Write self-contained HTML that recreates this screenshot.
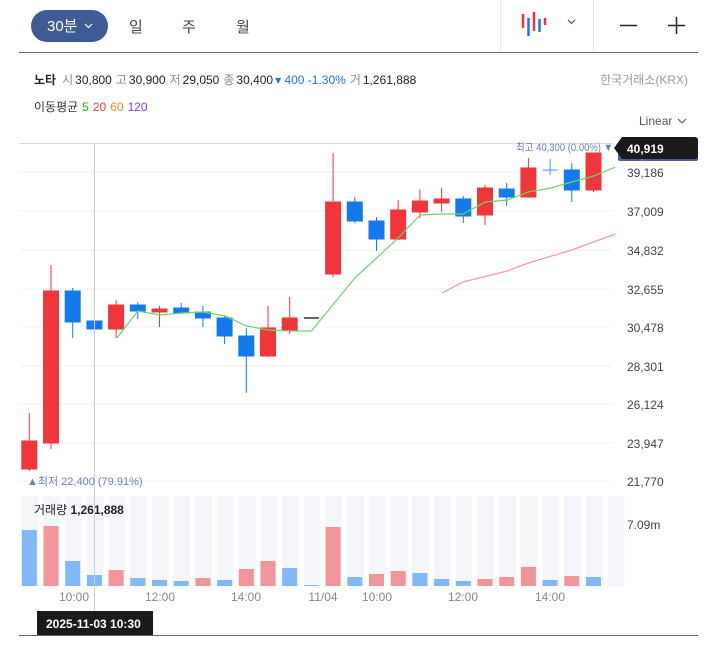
<!DOCTYPE html>
<html><head><meta charset="utf-8"><style>
body{margin:0;background:#fff;width:713px;height:650px;overflow:hidden}
text{font-family:"Liberation Sans","Noto Sans CJK KR",sans-serif}
</style></head><body>
<svg width="713" height="650" viewBox="0 0 713 650" xmlns="http://www.w3.org/2000/svg">
<rect x="31" y="10" width="77" height="32" rx="16" fill="#3f5b96"/>
<text x="47" y="31" font-size="15" fill="#fff">30분</text>
<path d="M85 24l3.5 3.5 3.5-3.5" stroke="#fff" fill="none" stroke-width="1.2"/>
<text x="129" y="32" font-size="15" fill="#444">일</text>
<text x="182" y="32" font-size="15" fill="#444">주</text>
<text x="236" y="32" font-size="15" fill="#444">월</text>
<line x1="500.5" y1="0" x2="500.5" y2="52" stroke="#e6e6e6"/>
<line x1="593.5" y1="0" x2="593.5" y2="52" stroke="#e6e6e6"/>
<g stroke-width="2.5">
<line x1="523" y1="14" x2="523" y2="28" stroke="#e8363c"/>
<line x1="528.5" y1="18" x2="528.5" y2="36" stroke="#1a73e8"/>
<line x1="534" y1="12" x2="534" y2="31" stroke="#e8363c"/>
<line x1="539.5" y1="19" x2="539.5" y2="32" stroke="#1a73e8"/>
<line x1="545" y1="18" x2="545" y2="25" stroke="#e8363c"/>
</g>
<path d="M568 20l3.5 3.5 3.5-3.5" stroke="#555" fill="none" stroke-width="1.2"/>
<line x1="620" y1="25.5" x2="637" y2="25.5" stroke="#222" stroke-width="1.5"/>
<line x1="668" y1="25.5" x2="685" y2="25.5" stroke="#222" stroke-width="1.5"/>
<line x1="676.5" y1="17" x2="676.5" y2="34" stroke="#222" stroke-width="1.5"/>
<line x1="19" y1="52.5" x2="698" y2="52.5" stroke="#666"/>
<text y="84" font-size="12" fill="#222"><tspan x="34" font-weight="bold">노타</tspan><tspan dx="6" fill="#888">시</tspan><tspan dx="2">30,800</tspan><tspan dx="4" fill="#888">고</tspan><tspan dx="2">30,900</tspan><tspan dx="4" fill="#888">저</tspan><tspan dx="2">29,050</tspan><tspan dx="4" fill="#888">종</tspan><tspan dx="2">30,400</tspan><tspan fill="#1a73e8" dx="2">▾ 400 -1.30%</tspan><tspan dx="4" fill="#888">거</tspan><tspan dx="2">1,261,888</tspan></text>
<text x="688" y="84" font-size="12" fill="#999" text-anchor="end">한국거래소(KRX)</text>
<text y="111" font-size="12" fill="#333"><tspan x="34">이동평균</tspan><tspan dx="4" fill="#1db300">5</tspan><tspan dx="4" fill="#f03c3c">20</tspan><tspan dx="4" fill="#f08a2c">60</tspan><tspan dx="4" fill="#8a3cf0">120</tspan></text>
<text x="639" y="125" font-size="12" fill="#555">Linear</text>
<path d="M678 119l4 4 4-4" stroke="#555" fill="none" stroke-width="1.1"/>
<line x1="19" y1="143.5" x2="613" y2="143.5" stroke="#d5dae6"/>
<g stroke="#f0f0f0">
<line x1="19" y1="172" x2="613" y2="172"/><line x1="19" y1="211" x2="613" y2="211"/>
<line x1="19" y1="250" x2="613" y2="250"/><line x1="19" y1="289" x2="613" y2="289"/>
<line x1="19" y1="327" x2="613" y2="327"/><line x1="19" y1="366" x2="613" y2="366"/>
<line x1="19" y1="404" x2="613" y2="404"/><line x1="19" y1="443" x2="613" y2="443"/>
<line x1="19" y1="481" x2="613" y2="481"/>
</g>
<g font-size="12" fill="#444">
<text x="627" y="177">39,186</text><text x="627" y="216">37,009</text>
<text x="627" y="255">34,832</text><text x="627" y="294">32,655</text>
<text x="627" y="332">30,478</text><text x="627" y="371">28,301</text>
<text x="627" y="409">26,124</text><text x="627" y="448">23,947</text>
<text x="627" y="486">21,770</text>
</g>
<g fill="#f5f6fa">
<rect x="21.5" y="496" width="17" height="90"/><rect x="43.2" y="496" width="17" height="90"/><rect x="64.9" y="496" width="17" height="90"/><rect x="86.6" y="496" width="17" height="90"/><rect x="108.3" y="496" width="17" height="90"/><rect x="130" y="496" width="17" height="90"/><rect x="151.7" y="496" width="17" height="90"/><rect x="173.4" y="496" width="17" height="90"/><rect x="195.1" y="496" width="17" height="90"/><rect x="216.8" y="496" width="17" height="90"/><rect x="238.5" y="496" width="17" height="90"/><rect x="260.2" y="496" width="17" height="90"/><rect x="281.9" y="496" width="17" height="90"/><rect x="303.6" y="496" width="17" height="90"/><rect x="325.3" y="496" width="17" height="90"/><rect x="347" y="496" width="17" height="90"/><rect x="368.7" y="496" width="17" height="90"/><rect x="390.4" y="496" width="17" height="90"/><rect x="412.1" y="496" width="17" height="90"/><rect x="433.8" y="496" width="17" height="90"/><rect x="455.5" y="496" width="17" height="90"/><rect x="477.2" y="496" width="17" height="90"/><rect x="498.9" y="496" width="17" height="90"/><rect x="520.6" y="496" width="17" height="90"/><rect x="542.3" y="496" width="17" height="90"/><rect x="564" y="496" width="17" height="90"/><rect x="585.7" y="496" width="17" height="90"/><rect x="607.4" y="496" width="17" height="90"/>
</g>
<g>
<rect x="21.8" y="530" width="15" height="56" fill="#80b9f5"/>
<rect x="43.5" y="526" width="15" height="60" fill="#f09599"/>
<rect x="65.2" y="561" width="15" height="25" fill="#80b9f5"/>
<rect x="86.9" y="575" width="15" height="11" fill="#80b9f5"/>
<rect x="108.6" y="570" width="15" height="16" fill="#f09599"/>
<rect x="130.3" y="578" width="15" height="8" fill="#80b9f5"/>
<rect x="152" y="580" width="15" height="6" fill="#80b9f5"/>
<rect x="173.7" y="581" width="15" height="5" fill="#80b9f5"/>
<rect x="195.4" y="578" width="15" height="8" fill="#f09599"/>
<rect x="217.1" y="580" width="15" height="6" fill="#80b9f5"/>
<rect x="238.8" y="569" width="15" height="17" fill="#f09599"/>
<rect x="260.5" y="561" width="15" height="25" fill="#f09599"/>
<rect x="282.2" y="568" width="15" height="18" fill="#80b9f5"/>
<rect x="303.9" y="585" width="15" height="1" fill="#80b9f5"/>
<rect x="325.6" y="527" width="15" height="59" fill="#f09599"/>
<rect x="347.3" y="577" width="15" height="9" fill="#80b9f5"/>
<rect x="369" y="574" width="15" height="12" fill="#f09599"/>
<rect x="390.7" y="571" width="15" height="15" fill="#f09599"/>
<rect x="412.4" y="573" width="15" height="13" fill="#80b9f5"/>
<rect x="434.1" y="579" width="15" height="7" fill="#80b9f5"/>
<rect x="455.8" y="581" width="15" height="5" fill="#80b9f5"/>
<rect x="477.5" y="579" width="15" height="7" fill="#f09599"/>
<rect x="499.2" y="577" width="15" height="9" fill="#f09599"/>
<rect x="520.9" y="567" width="15" height="19" fill="#f09599"/>
<rect x="542.6" y="580" width="15" height="6" fill="#80b9f5"/>
<rect x="564.3" y="576" width="15" height="10" fill="#f09599"/>
<rect x="586" y="577" width="15" height="9" fill="#80b9f5"/>
</g>
<text x="34" y="514" font-size="12" fill="#222">거래량 <tspan font-weight="bold">1,261,888</tspan></text>
<text x="627" y="529" font-size="12" fill="#444">7.09m</text>
<g font-size="12" fill="#888" text-anchor="middle">
<text x="74" y="601">10:00</text><text x="160" y="601">12:00</text><text x="246" y="601">14:00</text>
<text x="323" y="601">11/04</text><text x="377" y="601">10:00</text><text x="463" y="601">12:00</text><text x="550" y="601">14:00</text>
</g>
<g stroke-width="1">
<g stroke="#ee363b" fill="#ee363b">
<line x1="29.3" y1="413" x2="29.3" y2="471"/><rect x="21.8" y="441" width="15" height="28"/>
<line x1="51" y1="265" x2="51" y2="449"/><rect x="43.5" y="291" width="15" height="152"/>
<line x1="116.1" y1="300" x2="116.1" y2="338"/><rect x="108.6" y="305" width="15" height="24"/>
<line x1="159.5" y1="306" x2="159.5" y2="327"/><rect x="152" y="309" width="15" height="3"/>
<line x1="268" y1="306" x2="268" y2="357"/><rect x="260.5" y="328" width="15" height="28"/>
<line x1="289.7" y1="297" x2="289.7" y2="334"/><rect x="282.2" y="318" width="15" height="12"/>
<line x1="333.1" y1="153" x2="333.1" y2="277"/><rect x="325.6" y="202" width="15" height="72"/>
<line x1="398.2" y1="200" x2="398.2" y2="240"/><rect x="390.7" y="210" width="15" height="29"/>
<line x1="419.9" y1="189" x2="419.9" y2="218"/><rect x="412.4" y="201" width="15" height="11"/>
<line x1="441.6" y1="188" x2="441.6" y2="212"/><rect x="434.1" y="199" width="15" height="4"/>
<line x1="485" y1="185" x2="485" y2="225"/><rect x="477.5" y="188" width="15" height="27"/>
<line x1="528.4" y1="158" x2="528.4" y2="198"/><rect x="520.9" y="168" width="15" height="29"/>
<line x1="593.5" y1="153" x2="593.5" y2="192"/><rect x="586" y="153" width="15" height="37"/>
</g>
<g stroke="#1479ea" fill="#1479ea">
<line x1="72.7" y1="288" x2="72.7" y2="338"/><rect x="65.2" y="291" width="15" height="31"/>
<rect x="86.9" y="321" width="15" height="8"/>
<line x1="137.8" y1="302" x2="137.8" y2="319"/><rect x="130.3" y="305" width="15" height="6"/>
<line x1="181.2" y1="303" x2="181.2" y2="314"/><rect x="173.7" y="308" width="15" height="5"/>
<line x1="202.9" y1="306" x2="202.9" y2="327"/><rect x="195.4" y="312" width="15" height="6"/>
<line x1="224.6" y1="316" x2="224.6" y2="344"/><rect x="217.1" y="318" width="15" height="18"/>
<line x1="246.3" y1="328" x2="246.3" y2="393"/><rect x="238.8" y="336" width="15" height="20"/>
<line x1="354.8" y1="197" x2="354.8" y2="223"/><rect x="347.3" y="202" width="15" height="19"/>
<line x1="376.5" y1="217" x2="376.5" y2="251"/><rect x="369" y="221" width="15" height="18"/>
<line x1="463.3" y1="196" x2="463.3" y2="223"/><rect x="455.8" y="199" width="15" height="17"/>
<line x1="506.7" y1="183" x2="506.7" y2="206"/><rect x="499.2" y="189" width="15" height="8"/>
<line x1="571.8" y1="163" x2="571.8" y2="202"/><rect x="564.3" y="170" width="15" height="20"/>
</g>
<line x1="550.1" y1="159" x2="550.1" y2="175" stroke="#4b94ee"/>
<line x1="542.6" y1="170" x2="557.6" y2="170" stroke="#4b94ee"/>
<line x1="303.9" y1="318" x2="318.9" y2="318" stroke="#333" stroke-width="1.5"/>
</g>
<polyline fill="none" stroke="#6cd46a" stroke-width="1.2" points="116.9,338 137.9,311 159.8,315 182.2,313 203.2,312 225.1,316 246.6,326 268.5,330 290.4,331 311.4,331 354.8,278 376.7,258 399.1,237 420.1,215 442,214 463,214 485.4,202 507.3,200 528.3,192 550.7,188 571.7,182 593.6,176 615.5,167"/>
<polyline fill="none" stroke="#f59a9a" stroke-width="1.2" points="442,293 463,282 507.3,271 528.3,263 571.7,250 615.5,234"/>
<line x1="94.5" y1="143" x2="94.5" y2="612" stroke="#c8cfdc"/>
<text x="27" y="485" font-size="11" fill="#6b7fb5">▲최저 22,400 (79.91%)</text>
<text x="613" y="151" font-size="11" fill="#6b7fb5" text-anchor="end" textLength="97" lengthAdjust="spacingAndGlyphs">최고 40,300 (0.00%) ▼</text>
<rect x="618" y="146" width="80" height="15" rx="2" fill="#4a5f99"/>
<text x="627" y="159" font-size="12" fill="#ccd">40,300</text>
<path d="M614 148l8-11h73a3 3 0 0 1 3 3v16a3 3 0 0 1-3 3h-73z" fill="#1a1a1a"/>
<text x="627" y="153" font-size="12" fill="#fff" font-weight="bold">40,919</text>
<rect x="37" y="611" width="116" height="24" fill="#1a1a1a"/>
<text x="46" y="628" font-size="12" fill="#fff" font-weight="bold">2025-11-03 10:30</text>
<line x1="19" y1="635.5" x2="698" y2="635.5" stroke="#666"/>
</svg>
</body></html>
